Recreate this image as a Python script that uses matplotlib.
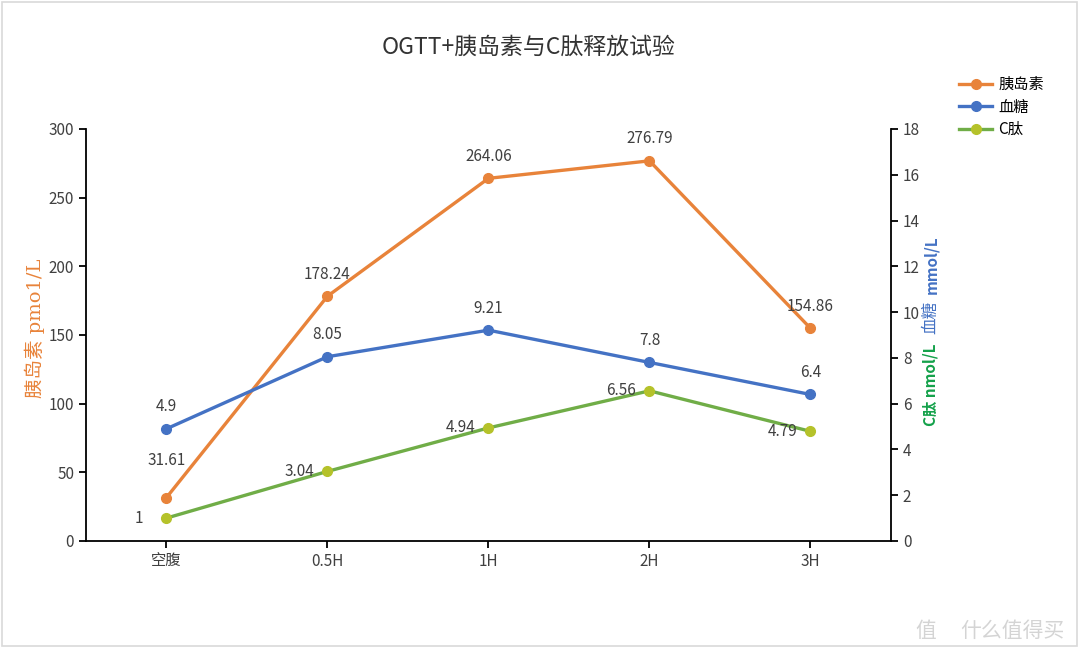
import matplotlib.pyplot as plt
from matplotlib.patches import Rectangle

plt.rcParams['font.family'] = ['Noto Sans CJK SC', 'DejaVu Sans']

categories = ["空腹", "0.5H", "1H", "2H", "3H"]
insulin = [31.61, 178.24, 264.06, 276.79, 154.86]
glucose = [4.9, 8.05, 9.21, 7.8, 6.4]
c_peptide = [1, 3.04, 4.94, 6.56, 4.79]

orange = "#E8833A"
blue = "#4472C4"
green = "#70AD47"
text_gray = "#404040"

fig = plt.figure(figsize=(10.8, 6.57), dpi=100)
ax = fig.add_axes([0.0796, 0.1766, 0.7454, 0.6271])
ax2 = ax.twinx()

x = list(range(len(categories)))

l1, = ax.plot(x, insulin, color=orange, lw=2.4, marker="o", ms=7,
              label="胰岛素", zorder=3)
l2, = ax2.plot(x, glucose, color=blue, lw=2.4, marker="o", ms=7,
               label="血糖", zorder=3)
l3, = ax2.plot(x, c_peptide, color=green, lw=2.4, marker="o", ms=7,
               mfc="#B5C22A", mec="#B5C22A", label="C肽", zorder=3)

ax.set_xlim(-0.5, 4.5)
ax.set_ylim(0, 300)
ax2.set_ylim(0, 18)
ax.set_yticks(range(0, 301, 50))
ax2.set_yticks(range(0, 19, 2))
ax.set_xticks(x)
ax.set_xticklabels(categories)

for a in (ax, ax2):
    a.spines["top"].set_visible(False)
    for s in a.spines.values():
        s.set_linewidth(1.3)
    a.tick_params(labelsize=11, labelcolor=text_gray, length=5, width=1.3)
ax.spines["right"].set_visible(False)
ax2.spines["left"].set_visible(False)
ax2.spines["bottom"].set_visible(False)

# data labels
for i, v in enumerate(insulin):
    dy = 37 if i == 0 else 22
    ax.annotate("{:g}".format(v), (i, v), xytext=(0, dy),
                textcoords="offset pixels", ha="center", va="center",
                fontsize=11, color=text_gray)
for i, v in enumerate(glucose):
    ax2.annotate("{:g}".format(v), (i, v), xytext=(0, 22),
                 textcoords="offset pixels", ha="center", va="center",
                 fontsize=11, color=text_gray)
for i, v in enumerate(c_peptide):
    ax2.annotate("{:g}".format(v), (i, v), xytext=(-28, 0),
                 textcoords="offset pixels", ha="center", va="center",
                 fontsize=11, color=text_gray)

# axis titles
fig.text(0.032, 0.50, "胰岛素 pmo1/L", rotation=90, ha="center",
         va="center", fontsize=14, color=orange,
         family=["DejaVu Serif", "Noto Sans CJK SC"])
fig.text(0.862, 0.414, "C肽 nmol/L", rotation=90, ha="center",
         va="center", fontsize=11, color="#14A14A", fontweight="bold")
fig.text(0.862, 0.517, "血糖", rotation=90, ha="center",
         va="center", fontsize=12, color=blue)
fig.text(0.862, 0.597, "mmol/L", rotation=90, ha="center",
         va="center", fontsize=11, color=blue, fontweight="bold")

fig.text(0.489, 0.928, "OGTT+胰岛素与C肽释放试验", ha="center",
         va="center", fontsize=16.5, color="#333333")

fig.legend(handles=[l1, l2, l3], loc="upper left",
           bbox_to_anchor=(0.875, 0.905), frameon=False, fontsize=11,
           handlelength=2.2, labelspacing=0.35, handletextpad=0.4)

# watermark
fig.text(0.857, 0.04, "值", ha="center", va="center", fontsize=15,
         color="#d4d4d4")
fig.text(0.986, 0.04, "什么值得买", ha="right", va="center", fontsize=15,
         color="#d4d4d4")

fig.patches.append(Rectangle((0.002, 0.017), 0.995, 0.98,
                             transform=fig.transFigure, fill=False,
                             edgecolor="#d9d9d9", lw=1.2))

fig.savefig("out.png", dpi=100)
